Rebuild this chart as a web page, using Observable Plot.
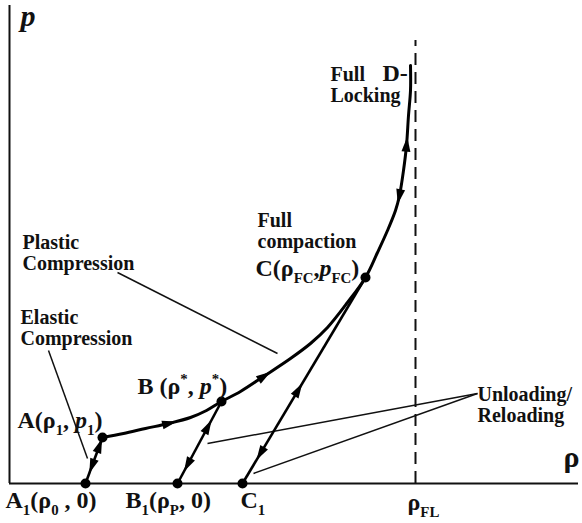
<!DOCTYPE html>
<html><head><meta charset="utf-8">
<script src="https://cdn.jsdelivr.net/npm/d3@7"></script>
<script src="https://cdn.jsdelivr.net/npm/@observablehq/plot@0.6"></script>
<style>body{margin:0;background:#fff} svg{display:block}</style>
</head><body><div id="chart"></div>
<script>
// Schematic units: density ρ along x, pressure p along y
const axisRhoMax = 56.9;
const axisPMax = 47.8;

// Loading path A → B → C → D (plastic compression up to full locking)
const curveRho = [9.3, 11.4, 13.6, 15.9, 18.1, 19.7, 21.2, 23.1, 25.4, 28.1, 30.1, 31.8, 33.8, 35.6, 36.8, 37.8, 38.6, 39.0, 39.4, 39.7, 39.9, 40.1, 40.1];
const curveP   = [4.6, 5.0, 5.5, 6.0, 6.6, 7.3, 8.2, 9.2, 10.7, 12.5, 14.0, 15.6, 18.1, 20.6, 23.1, 25.3, 27.3, 28.8, 31.3, 33.8, 36.8, 39.3, 41.8];

// Key states
const pointNames = ["A1", "A", "B", "C", "B1", "C1"];
const pointRho   = [7.6, 9.3, 21.2, 35.6, 16.8, 23.3];
const pointP     = [0, 4.6, 8.2, 20.6, 0, 0];

// Straight elastic / unloading-reloading segments (from, to)
const segFrom = ["A1", "B1", "C1"];
const segTo   = ["A", "B", "C"];

// Full-locking density
const rhoFL = 40.6;
const rhoFLTop = 44.3;

// Arrowheads on straight segments: segment index, fraction from start, direction (+1 loading, -1 unloading)
const segArrowSeg = [0, 0, 1, 1, 2, 2];
const segArrowT   = [0.8, 0.4, 0.68, 0.24, 0.45, 0.15];
const segArrowDir = [1, -1, 1, -1, 1, -1];
// Arrowheads on the loading curve: point index, direction
const curveArrowIdx = [3, 8, 19, 17];
const curveArrowDir = [1, 1, 1, -1];

// Descriptive notes
const notes    = ["Plastic\nCompression", "Elastic\nCompression", "Full\ncompaction", "Full\nLocking", "Unloading/\nReloading"];
const noteRho  = [1.3, 1.1, 24.8, 32.1, 46.8];
const noteP    = [21.4, 13.9, 23.6, 38.2, 6.2];

// Point labels (_{} subscript, ^{} superscript, ~{} italic)
const labels   = ["A(ρ_{1}, ~{p}_{1})", "B (ρ^{*}, ~{p}^{*})", "C(ρ_{FC},~{p}_{FC})", "D-", "A_{1}(ρ_{0} , 0)", "B_{1}(ρ_{P}, 0)", "C_{1}", "ρ_{FL}"];
const labelRho = [0.8, 12.8, 24.6, 37.3, -0.4, 11.6, 23.1, 39.8];
const labelP   = [5.6, 9.0, 20.8, 40.3, -2.4, -2.4, -2.4, -2.6];

// Axis titles
const axisTitles   = ["~{p}", "ρ"];
const axisTitleRho = [1.1, 55.4];
const axisTitleP   = [45.8, 1.7];

// Leader lines
const leaderRho1 = [10.8, 3.9, 46.8, 46.8];
const leaderP1   = [21.1, 13.3, 9.0, 9.0];
const leaderRho2 = [26.8, 7.8, 19.8, 24.4];
const leaderP2   = [13.0, 2.5, 4.0, 1.0];

const curve = curveRho.map((x, i) => ({x, y: curveP[i]}));
const pts = pointNames.map((n, i) => ({n, x: pointRho[i], y: pointP[i]}));
const byName = Object.fromEntries(pts.map(d => [d.n, d]));
const segs = segFrom.map((f, i) => ({a: byName[f], b: byName[segTo[i]]}));
const ang = (dx, dy) => Math.atan2(dx, dy) * 180 / Math.PI;
const arrows = [
  ...segArrowSeg.map((s, i) => {
    const {a, b} = segs[s], t = segArrowT[i], d = segArrowDir[i];
    return {x: a.x + t * (b.x - a.x), y: a.y + t * (b.y - a.y), a: ang(d * (b.x - a.x), d * (b.y - a.y))};
  }),
  ...curveArrowIdx.map((k, i) => {
    const p0 = curve[k - 1], p1 = curve[k + 1], d = curveArrowDir[i];
    return {x: curve[k].x, y: curve[k].y, a: ang(d * (p1.x - p0.x), d * (p1.y - p0.y))};
  })
];
const noteData = notes.map((t, i) => ({t, x: noteRho[i], y: noteP[i]}));
const labelData = labels.map((t, i) => ({t, x: labelRho[i], y: labelP[i]}));
const titleData = axisTitles.map((t, i) => ({t, x: axisTitleRho[i], y: axisTitleP[i]}));
const leaders = leaderRho1.map((x1, i) => ({x1, y1: leaderP1[i], x2: leaderRho2[i], y2: leaderP2[i]}));

// Narrow arrowhead symbol pointing up
const arrowHead = {
  draw(context, size) {
    const s = Math.sqrt(size);
    context.moveTo(0, -0.7 * s);
    context.lineTo(0.36 * s, 0.5 * s);
    context.lineTo(-0.36 * s, 0.5 * s);
    context.closePath();
  }
};

const serif = "Liberation Serif, Times New Roman, serif";

const chart = Plot.plot({
  width: 582, height: 523,
  marginLeft: 9, marginRight: 4, marginTop: 5, marginBottom: 40,
  x: {domain: [0, axisRhoMax], axis: null},
  y: {domain: [0, axisPMax], axis: null},
  style: {background: "white", overflow: "visible"},
  marks: [
    Plot.ruleX([0], {y1: 0, y2: axisPMax, stroke: "#111", strokeWidth: 2}),
    Plot.ruleY([0], {x1: 0, x2: axisRhoMax, stroke: "#111", strokeWidth: 2}),
    Plot.ruleX([rhoFL], {y1: 0, y2: rhoFLTop, stroke: "#111", strokeWidth: 2, strokeDasharray: "12,7"}),
    Plot.link(leaders, {x1: "x1", y1: "y1", x2: "x2", y2: "y2", stroke: "#111", strokeWidth: 1.5}),
    Plot.link(segs, {x1: d => d.a.x, y1: d => d.a.y, x2: d => d.b.x, y2: d => d.b.y, stroke: "#000", strokeWidth: 2.6}),
    Plot.line(curve, {x: "x", y: "y", curve: "catmull-rom", stroke: "#000", strokeWidth: 3}),
    Plot.dot(arrows, {x: "x", y: "y", rotate: "a", symbol: arrowHead, r: 7, fill: "#000", stroke: "none"}),
    Plot.dot(pts, {x: "x", y: "y", r: 5, fill: "#000"}),
    Plot.text(noteData, {x: "x", y: "y", text: "t", textAnchor: "start", lineAnchor: "bottom", lineHeight: 1.05, fontSize: 20, fontWeight: "bold", fontFamily: serif, fill: "#111"}),
    Plot.text(labelData, {x: "x", y: "y", text: "t", textAnchor: "start", lineAnchor: "bottom", fontSize: 24, fontWeight: "bold", fontFamily: serif, fill: "#111"}),
    Plot.text(titleData, {x: "x", y: "y", text: "t", textAnchor: "start", lineAnchor: "bottom", fontSize: 30, fontWeight: "bold", fontFamily: serif, fill: "#111"})
  ]
});
document.getElementById("chart").appendChild(chart);

// Turn the markers into sub/superscript and italic tspans
d3.select(chart).selectAll("text").each(function() {
  const el = this;
  const raw = el.textContent;
  if (!/[_^~]\{/.test(raw) || el.querySelector("tspan")) return;
  const fs = parseFloat(getComputedStyle(el).fontSize) || 22;
  while (el.firstChild) el.removeChild(el.firstChild);
  const re = /([_^~])\{([^}]*)\}|([^_^~]+)/g;
  let m, shift = 0;
  while ((m = re.exec(raw))) {
    const t = document.createElementNS("http://www.w3.org/2000/svg", "tspan");
    let target = 0;
    if (m[3] !== undefined) {
      t.textContent = m[3];
    } else {
      t.textContent = m[2];
      if (m[1] === "_") { target = 0.3 * fs; t.setAttribute("font-size", 0.62 * fs); }
      else if (m[1] === "^") { target = -0.4 * fs; t.setAttribute("font-size", 0.62 * fs); }
      else { t.setAttribute("font-style", "italic"); }
    }
    if (target !== shift) { t.setAttribute("dy", target - shift); shift = target; }
    el.appendChild(t);
  }
});
</script>
</body></html>
